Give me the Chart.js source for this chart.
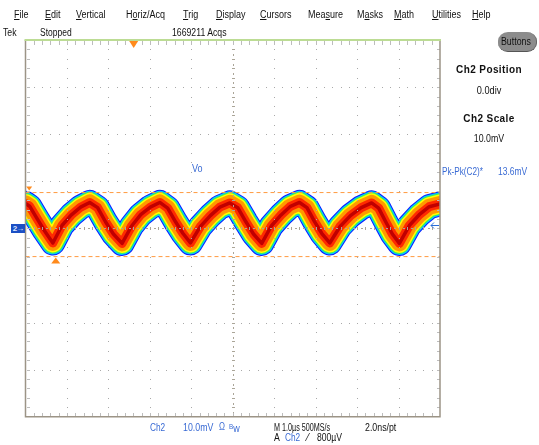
<!DOCTYPE html>
<html>
<head>
<meta charset="utf-8">
<script src="https://cdn.jsdelivr.net/npm/chart.js@4.4.0/dist/chart.umd.min.js"></script>
<style>
    html, body { margin: 0; padding: 0; background: #fff; }
    #wrap { position: relative; width: 539px; height: 445px; overflow: hidden;
            font-family: "Liberation Sans", Arial, sans-serif; font-size: 10px; color: #111; }
    #wrap canvas { position: absolute; left: 0; top: 0; }
    .t { position: absolute; line-height: 1; white-space: nowrap; transform-origin: 0 0; }
    .b { font-weight: bold; letter-spacing: 0.4px; }
    .blue { color: #3a6bd4; }
    #btn { position: absolute; left: 498px; top: 32px; width: 38px; height: 19px; border-radius: 10px / 9px;
           background: #8c8c8c; border-bottom: 1px solid #555; border-right: 1px solid #666; }
</style>
</head>
<body>
<div id="wrap">
    <canvas id="scope" width="539" height="445"></canvas>
    <div id="btn"></div>
</div>
<script>
// Ch2 trace ridge (centre of the persistence band)
const timeUs = [0, 0.1, 0.25, 0.45, 0.66, 0.88, 1.1, 1.33, 1.55, 1.74, 1.93, 2.12, 2.33,
    2.56, 2.78, 3.01, 3.24, 3.43, 3.62, 3.8, 3.98, 4.22, 4.46, 4.69, 4.93, 5.12, 5.31, 5.5, 5.7,
    5.93, 6.16, 6.38, 6.61, 6.79, 6.97, 7.15, 7.34, 7.59, 7.84, 8.1, 8.35, 8.52, 8.69, 8.85, 9.02,
    9.26, 9.5, 9.74, 10];
const ch2mV = [5.3, 4.7, 2.5, -0.4, -3.1, 0.6, 2.8, 4.5, 5.5, 4.4, 1.4, -1.2, -3.2,
    0.5, 2.9, 4.5, 5.5, 4.3, 1.4, -1.1, -3.1, 0.4, 2.7, 4.5, 5.4, 4.4, 1.5, -1.2, -3.2,
    0.5, 2.8, 4.6, 5.5, 4.4, 1.5, -1.1, -3.1, 0.4, 2.7, 4.4, 5.4, 4.3, 1.4, -1.2, -3.2,
    0.6, 2.9, 4.6, 5.2];

// Pk-Pk cursors (mV) and the marks of where max / min were found
const cursorMv = [7.6, -6.0];
const maxAtUs = 0.04;
const minAtUs = 0.73;
const triggerPosUs = 2.61;
const triggerLevelMv = 0.8;

// persistence colour grades, outer to inner
const gradeColors = ['#0a1cff', '#00c8ff', '#3cf05a', '#ffff00', '#ff9a00', '#ff2a00', '#c00000'];
const gradeWidths = [25, 23, 21, 19, 16, 9, 3.5];

const menu = [['<u>F</u>ile', 14], ['<u>E</u>dit', 45], ['<u>V</u>ertical', 76], ['H<u>o</u>riz/Acq', 126],
    ['<u>T</u>rig', 183], ['<u>D</u>isplay', 216], ['<u>C</u>ursors', 260], ['Mea<u>s</u>ure', 308],
    ['M<u>a</u>sks', 357], ['<u>M</u>ath', 394], ['<u>U</u>tilities', 432], ['<u>H</u>elp', 472]];

const labels = [
    // text, x, baseline, class, horizontal squeeze, centred
    ['Tek', 3, 36.7, '', 0.87], ['Stopped', 40, 36.7, '', 0.85], ['1669211 Acqs', 172, 36.7, '', 0.87],
    ['Buttons', 501, 45.5, '', 0.88],
    ['Ch2 Position', 489, 73.3, 'b', 1, true], ['0.0div', 489, 94, '', 0.92, true],
    ['Ch2 Scale', 489, 122.7, 'b', 1, true], ['10.0mV', 489, 142.3, '', 0.88, true],
    ['Pk-Pk(C2)*', 442, 175, 'blue', 0.82], ['13.6mV', 498, 175, 'blue', 0.85],
    ['Vo', 192, 172, 'blue', 0.9],
    ['Ch2', 150, 431, 'blue', 0.83], ['10.0mV', 183, 431, 'blue', 0.88], ['Ω', 219, 430, 'blue', 0.8],
    ['<span style="font-size:7px;vertical-align:3px">B</span>w', 229, 431, 'blue', 0.9],
    ['M 1.0µs 500MS/s', 274, 431, '', 0.72], ['2.0ns/pt', 365, 431, '', 0.88],
    ['A', 274, 441.7, '', 0.87], ['Ch2', 285, 441.7, 'blue', 0.83], ['⁄', 307, 441.7, '', 1],
    ['800µV', 317, 441.7, '', 0.86],
];

const wrap = document.getElementById('wrap');
function addText(html, x, base, cls, sx, centred) {
    const s = document.createElement('span');
    s.className = 't ' + cls;
    s.innerHTML = html;
    s.style.left = x + 'px';
    s.style.top = (base - 8.5) + 'px';
    wrap.appendChild(s);
    if (centred) {
        s.style.transformOrigin = '50% 0';
        s.style.transform = 'translateX(-50%) scaleX(' + sx + ')';
    } else {
        s.style.transform = 'scaleX(' + sx + ')';
    }
}
menu.forEach(([m, x]) => addText(m, x, 18.3, '', 0.9));
labels.forEach(([m, x, b, c, sx, ctr]) => addText(m, x, b, c, sx, ctr));

// channel 2 ground marker
const gnd = document.createElement('span');
gnd.className = 't b';
gnd.textContent = '2→';
Object.assign(gnd.style, { left: '11px', top: '224px', width: '14px', height: '9px', fontSize: '8px',
    lineHeight: '9px', background: '#1b4fc4', color: '#dfe8ff', textAlign: 'center', letterSpacing: '-1px' });
wrap.appendChild(gnd);

const trace = timeUs.map((t, i) => ({ x: t, y: ch2mV[i] }));

const graticule = {
    id: 'graticule',
    afterDatasetsDraw(chart) {
        const { ctx, chartArea: a, scales: { x, y } } = chart;
        ctx.save();
        ctx.fillStyle = '#a9a9a9';
        // dotted division lines
        for (let i = 1; i < 10; i++) {
            if (i === 5) continue;
            const px = Math.round(x.getPixelForValue(i));
            for (let k = 1; k < 40; k++) {
                ctx.fillRect(px, Math.round(y.getPixelForValue(-40 + k * 2)), 1, 1);
            }
        }
        for (let j = -3; j <= 3; j++) {
            if (j === 0) continue;
            const py = Math.round(y.getPixelForValue(j * 10));
            for (let k = 1; k < 50; k++) {
                ctx.fillRect(Math.round(x.getPixelForValue(k * 0.2)), py, 1, 1);
            }
        }
        // centre axes with minor ticks
        ctx.fillStyle = '#aaa598';
        const cx = Math.round(x.getPixelForValue(5));
        const cy = Math.round(y.getPixelForValue(0));
        for (let k = 1; k < 50; k++) {
            const px = Math.round(x.getPixelForValue(k * 0.2));
            ctx.fillRect(px, cy - 1, 1, 3);
            ctx.fillRect(Math.round(x.getPixelForValue(k * 0.2 - 0.1)), cy, 2, 1);
        }
        for (let k = 1; k < 40; k++) {
            const py = Math.round(y.getPixelForValue(-40 + k * 2));
            ctx.fillRect(cx - 1, py, 3, 1);
            ctx.fillRect(cx, Math.round(y.getPixelForValue(-41 + k * 2)), 1, 2);
        }
        // border ticks
        ctx.fillStyle = '#bdbdbd';
        for (let k = 1; k < 50; k++) {
            const px = Math.round(x.getPixelForValue(k * 0.2));
            ctx.fillRect(px, Math.round(a.top) + 1, 1, 4);
            ctx.fillRect(px, Math.round(a.bottom) - 4, 1, 4);
        }
        for (let k = 1; k < 40; k++) {
            const py = Math.round(y.getPixelForValue(-40 + k * 2));
            ctx.fillRect(Math.round(a.left) + 1, py, 3, 1);
            ctx.fillRect(Math.round(a.right) - 3, py, 3, 1);
        }
        // frame
        ctx.strokeStyle = '#9c9486';
        ctx.lineWidth = 1.5;
        ctx.beginPath();
        ctx.moveTo(a.left, a.top);
        ctx.lineTo(a.left, a.bottom);
        ctx.lineTo(a.right, a.bottom);
        ctx.lineTo(a.right, a.top);
        ctx.stroke();
        ctx.strokeStyle = '#bcdc94';
        ctx.lineWidth = 2;
        ctx.beginPath();
        ctx.moveTo(a.left - 1, a.top);
        ctx.lineTo(a.right + 1, a.top);
        ctx.stroke();
        ctx.restore();
    },
    afterDraw(chart) {
        const { ctx, chartArea: a, scales: { x, y } } = chart;
        const tri = (cxp, tip, h, w, color) => {
            ctx.fillStyle = color;
            ctx.beginPath();
            ctx.moveTo(cxp, tip);
            ctx.lineTo(cxp - w, tip - h);
            ctx.lineTo(cxp + w, tip - h);
            ctx.closePath();
            ctx.fill();
        };
        ctx.save();
        tri(x.getPixelForValue(triggerPosUs), a.top + 8, 7, 4.5, '#ff8a1c');
        tri(x.getPixelForValue(maxAtUs) + 2, y.getPixelForValue(cursorMv[0]) - 2, 4, 3, '#ff8a1c');
        tri(x.getPixelForValue(minAtUs), y.getPixelForValue(cursorMv[1]) + 1, -6, 4.5, '#ff8a1c');
        // trigger level arrow
        const ty = Math.round(y.getPixelForValue(triggerLevelMv)) + 0.5;
        ctx.strokeStyle = '#2b6ed8';
        ctx.lineWidth = 1;
        ctx.beginPath();
        ctx.moveTo(a.right - 1, ty);
        ctx.lineTo(a.right - 9, ty);
        ctx.moveTo(a.right - 9, ty);
        ctx.lineTo(a.right - 6, ty - 3);
        ctx.moveTo(a.right - 9, ty);
        ctx.lineTo(a.right - 6, ty + 3);
        ctx.stroke();
        ctx.restore();
    }
};

const datasets = gradeColors.map((c, i) => ({
    data: trace,
    borderColor: c,
    borderWidth: gradeWidths[i],
    borderJoinStyle: 'round',
    borderCapStyle: 'round',
    pointRadius: 0,
    tension: 0,
    clip: 0,
    order: gradeColors.length - i + 1,
}));
cursorMv.forEach((v) => datasets.push({
    data: [{ x: 0, y: v }, { x: 10, y: v }],
    borderColor: '#ff9a40',
    borderWidth: 1,
    borderDash: [4, 3],
    pointRadius: 0,
    clip: 0,
    order: 0,
}));

new Chart(document.getElementById('scope').getContext('2d'), {
    type: 'line',
    data: { datasets },
    options: {
        responsive: false,
        animation: false,
        events: [],
        layout: { padding: { left: 25.5, right: 99, top: 40, bottom: 28.3 } },
        plugins: { legend: { display: false }, tooltip: { enabled: false } },
        scales: {
            x: { type: 'linear', min: 0, max: 10, display: false },
            y: { type: 'linear', min: -40, max: 40, display: false },
        },
    },
    plugins: [graticule],
});
</script>
</body>
</html>
